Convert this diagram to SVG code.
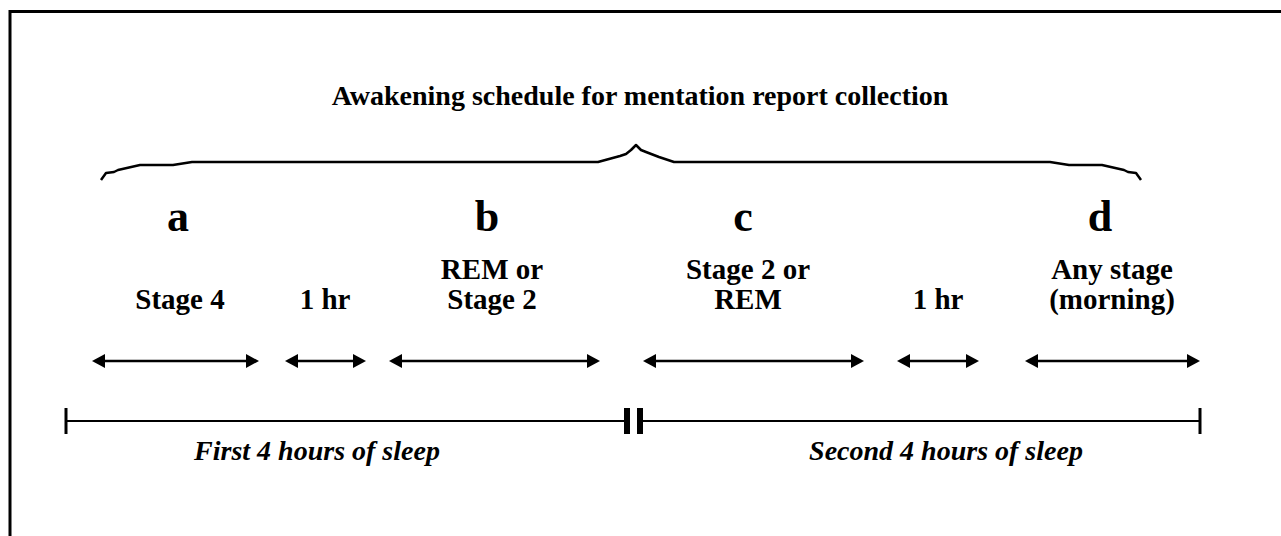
<svg xmlns="http://www.w3.org/2000/svg" width="1281" height="536" viewBox="0 0 1281 536">
<style>
  text { font-family: "Liberation Serif", "Times New Roman", serif; font-weight: bold; fill: #000; text-anchor: middle; }
  .title { font-size: 28px; }
  .letter { font-size: 44px; }
  .label { font-size: 29px; }
  .span { font-size: 28px; font-style: italic; }
  .line { stroke: #000; stroke-width: 2.5; fill: none; }
  .arrow { stroke: #000; stroke-width: 2.5; fill: none; marker-start: url(#ah); marker-end: url(#ah); }
</style>
<defs>
  <marker id="ah" viewBox="0 0 13 14" refX="8" refY="7" markerWidth="13" markerHeight="14" markerUnits="userSpaceOnUse" orient="auto-start-reverse">
    <path d="M0,0 L13,7 L0,14 z" fill="#000"/>
  </marker>
</defs>
<rect width="1281" height="536" fill="#fff"/>
<path d="M10,536 V11.5 H1281" stroke="#000" stroke-width="3" fill="none"/>

<g id="title">
  <text class="title" x="640" y="105">Awakening schedule for mentation report collection</text>
</g>

<g id="brace">
  <polyline class="line" stroke-linejoin="round" points="101,180 106,173 114,172 118,170 140,165 173,165 192,162 598,162 620,156 626,154 631,150 636,145 641,150 646,152 659,157 674,162 1050,162 1069,165 1102,165 1124,170 1128,172 1136,173 1141,180"/>
</g>

<g id="letter-a"><text class="letter" x="178" y="231">a</text></g>
<g id="letter-b"><text class="letter" x="487" y="231">b</text></g>
<g id="letter-c"><text class="letter" x="743" y="231">c</text></g>
<g id="letter-d"><text class="letter" x="1100" y="231">d</text></g>

<g id="label-stage4"><text class="label" x="180" y="309">Stage 4</text></g>
<g id="label-1hr-a"><text class="label" x="325" y="309">1 hr</text></g>
<g id="label-rem-stage2"><text class="label" x="492" y="279">REM or</text><text class="label" x="492" y="309">Stage 2</text></g>
<g id="label-stage2-rem"><text class="label" x="748" y="279">Stage 2 or</text><text class="label" x="748" y="309">REM</text></g>
<g id="label-1hr-b"><text class="label" x="938" y="309">1 hr</text></g>
<g id="label-any"><text class="label" x="1112" y="279">Any stage</text><text class="label" x="1112" y="309">(morning)</text></g>

<g id="connectors">
  <line class="arrow" x1="97" y1="361" x2="254" y2="361"/>
  <line class="arrow" x1="290" y1="361" x2="361" y2="361"/>
  <line class="arrow" x1="394" y1="361" x2="595" y2="361"/>
  <line class="arrow" x1="648" y1="361" x2="859" y2="361"/>
  <line class="arrow" x1="902" y1="361" x2="974" y2="361"/>
  <line class="arrow" x1="1030" y1="361" x2="1195" y2="361"/>
</g>

<g id="timeline">
  <line x1="66" y1="408" x2="66" y2="434" stroke="#000" stroke-width="3"/>
  <line x1="66" y1="421" x2="625" y2="421" stroke="#000" stroke-width="2"/>
  <rect x="624" y="408" width="6" height="26" fill="#000"/>
  <rect x="637" y="408" width="6" height="26" fill="#000"/>
  <line x1="642" y1="421" x2="1200" y2="421" stroke="#000" stroke-width="2"/>
  <line x1="1200" y1="408" x2="1200" y2="434" stroke="#000" stroke-width="3"/>
</g>

<g id="span-first"><text class="span" x="317" y="460">First 4 hours of sleep</text></g>
<g id="span-second"><text class="span" x="946" y="460">Second 4 hours of sleep</text></g>
</svg>
